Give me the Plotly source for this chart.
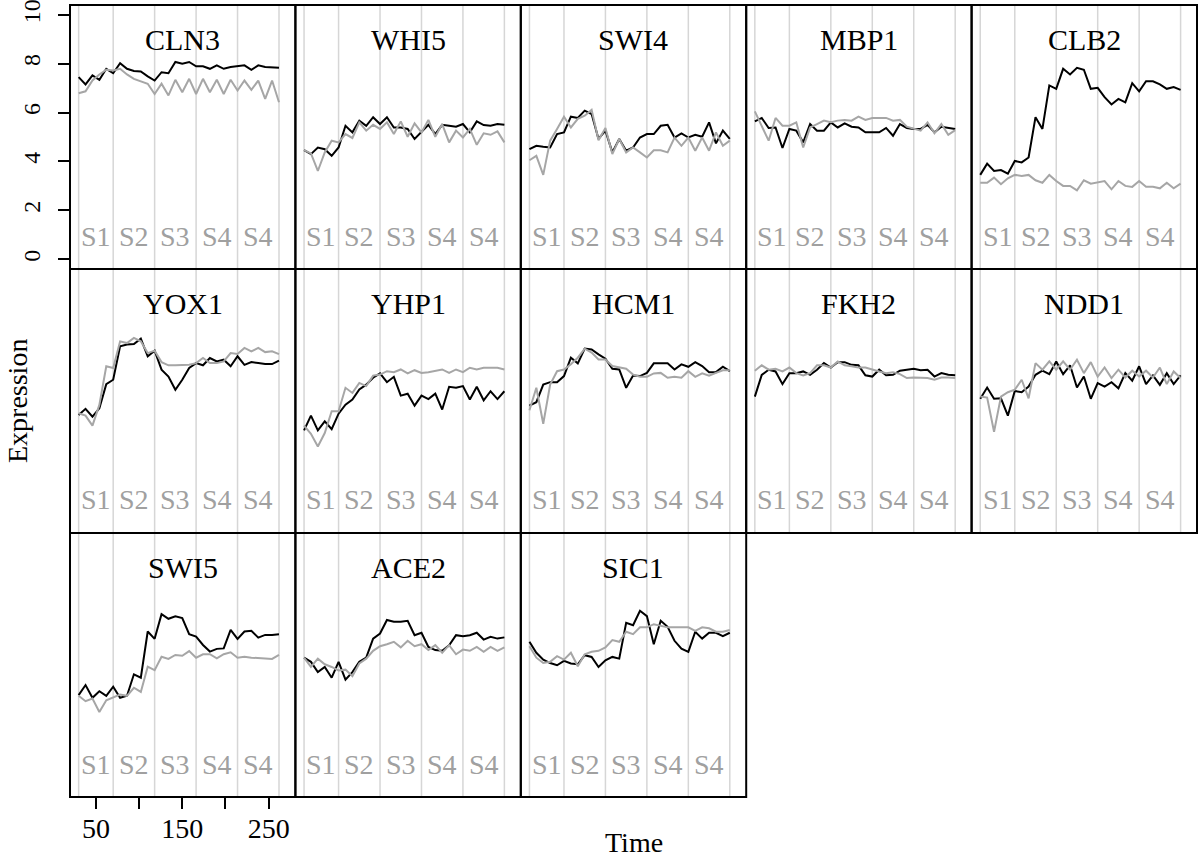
import plotly.graph_objects as go

# ---------------- data ----------------
time = [30, 38, 46, 54, 62, 70, 78, 86, 94, 102, 110, 118, 126, 134, 142,
        150, 158, 166, 174, 182, 190, 198, 206, 214, 222, 230, 238, 246, 254, 262]

stage_bounds = [30, 70, 118, 166, 214, 262]
stage_labels = ["S1", "S2", "S3", "S4", "S4"]

genes = ["CLN3", "WHI5", "SWI4", "MBP1", "CLB2",
         "YOX1", "YHP1", "HCM1", "FKH2", "NDD1",
         "SWI5", "ACE2", "SIC1"]

cln3_black = [7.45, 7.15, 7.52, 7.34, 7.79, 7.61, 8.02, 7.79, 7.70, 7.68, 7.48, 7.31, 7.65, 7.61, 8.07,
              8.00, 8.07, 7.89, 7.89, 7.79, 7.93, 7.79, 7.86, 7.89, 7.93, 7.75, 7.93, 7.86, 7.83, 7.83]
cln3_gray = [6.79, 6.87, 7.31, 7.56, 7.75, 7.72, 7.79, 7.56, 7.38, 7.28, 7.18, 6.76, 7.18, 6.70, 7.34,
             6.83, 7.38, 6.76, 7.38, 6.83, 7.34, 6.76, 7.34, 6.90, 7.31, 6.93, 7.31, 6.56, 7.31, 6.42]

whi5_black = [4.46, 4.30, 4.57, 4.50, 4.23, 4.57, 5.46, 5.19, 5.67, 5.46, 5.81, 5.53, 5.81, 5.39, 5.39,
              5.33, 4.92, 5.19, 5.50, 5.12, 5.50, 5.46, 5.42, 5.53, 5.19, 5.64, 5.49, 5.46, 5.53, 5.50]
whi5_gray = [4.46, 4.33, 3.61, 4.37, 4.85, 4.78, 5.12, 4.96, 5.60, 5.26, 5.50, 5.33, 5.60, 5.12, 5.64,
             5.01, 5.56, 5.19, 5.70, 5.01, 5.53, 4.78, 5.26, 4.98, 5.33, 4.68, 5.15, 5.09, 5.23, 4.78]

swi4_black = [4.50, 4.64, 4.60, 4.57, 5.12, 5.19, 5.83, 5.78, 6.08, 5.94, 4.92, 5.26, 4.37, 4.92, 4.44,
              4.57, 4.98, 5.12, 5.12, 5.46, 5.50, 4.98, 5.15, 4.98, 5.09, 5.01, 5.60, 4.74, 5.26, 4.92]
swi4_gray = [4.05, 4.23, 3.45, 4.85, 5.33, 5.83, 5.39, 5.74, 5.87, 6.11, 4.87, 5.37, 4.30, 4.92, 4.37,
             4.57, 4.37, 4.16, 4.46, 4.46, 4.37, 4.98, 4.64, 4.98, 4.44, 4.98, 4.44, 5.19, 4.64, 4.85]

mbp1_black = [5.64, 5.78, 5.37, 5.39, 4.55, 5.33, 5.26, 4.78, 5.53, 5.26, 5.26, 5.60, 5.39, 5.56, 5.42,
              5.39, 5.19, 5.19, 5.19, 5.37, 5.05, 5.53, 5.37, 5.33, 5.33, 5.50, 5.19, 5.42, 5.39, 5.33]
mbp1_gray = [6.05, 5.46, 4.85, 5.78, 5.46, 5.46, 5.60, 4.57, 5.39, 5.53, 5.67, 5.60, 5.67, 5.70, 5.67,
             5.83, 5.70, 5.78, 5.78, 5.78, 5.67, 5.70, 5.42, 5.33, 5.26, 5.60, 5.15, 5.53, 5.09, 5.28]

clb2_black = [3.45, 3.91, 3.61, 3.65, 3.50, 4.02, 3.96, 4.16, 5.81, 5.33, 7.11, 6.97, 7.79, 7.56, 7.83,
              7.75, 6.97, 7.01, 6.63, 6.33, 6.56, 6.42, 7.20, 6.87, 7.28, 7.28, 7.15, 6.97, 7.04, 6.93]
clb2_gray = [3.13, 3.13, 3.34, 3.07, 3.31, 3.45, 3.41, 3.45, 3.23, 3.13, 3.45, 3.20, 3.00, 3.00, 2.82,
             3.23, 3.09, 3.13, 3.20, 2.86, 3.20, 3.00, 2.96, 3.20, 2.96, 2.96, 2.90, 3.13, 2.90, 3.09]

yox1_black = [4.43, 4.68, 4.36, 4.70, 5.69, 5.87, 7.24, 7.31, 7.33, 7.55, 6.83, 7.06, 6.28, 6.00, 5.46,
              5.87, 6.35, 6.55, 6.46, 6.76, 6.62, 6.69, 6.42, 6.83, 6.48, 6.59, 6.55, 6.51, 6.51, 6.65]
yox1_gray = [4.50, 4.40, 3.99, 4.84, 6.42, 6.35, 7.44, 7.37, 7.58, 7.44, 6.96, 7.06, 6.59, 6.46, 6.46,
             6.48, 6.48, 6.55, 6.76, 6.55, 6.55, 6.62, 6.96, 6.92, 7.17, 7.03, 7.17, 7.00, 7.03, 6.92]

yhp1_black = [3.80, 4.40, 3.80, 4.17, 3.85, 4.48, 4.85, 5.06, 5.47, 5.67, 5.95, 6.13, 5.77, 5.99, 5.22,
              5.30, 4.81, 5.22, 5.08, 5.30, 4.65, 5.58, 5.54, 5.61, 5.06, 5.58, 5.03, 5.40, 5.08, 5.40]
yhp1_gray = [3.99, 3.66, 3.14, 3.69, 4.58, 4.58, 5.54, 5.33, 5.74, 5.61, 6.04, 6.08, 6.22, 6.18, 6.29,
             6.13, 6.26, 6.15, 6.18, 6.22, 6.29, 6.15, 6.29, 6.18, 6.36, 6.29, 6.36, 6.36, 6.36, 6.29]

hcm1_black = [4.81, 4.95, 5.67, 5.77, 5.77, 6.02, 6.77, 6.54, 7.14, 7.11, 6.91, 6.73, 6.32, 6.29, 5.54,
              6.04, 6.02, 6.15, 6.54, 6.54, 6.54, 6.29, 6.50, 6.40, 6.59, 6.43, 6.18, 6.18, 6.40, 6.22]
hcm1_gray = [4.62, 5.54, 4.07, 5.67, 6.22, 6.29, 6.50, 6.77, 7.14, 6.98, 6.70, 6.70, 6.43, 6.36, 6.32,
             6.08, 5.99, 5.99, 6.13, 6.15, 5.95, 5.99, 5.95, 6.22, 5.99, 6.13, 6.04, 6.15, 6.26, 6.26]

fkh2_black = [5.18, 6.07, 6.28, 6.21, 5.69, 6.14, 6.14, 6.21, 6.07, 6.28, 6.55, 6.37, 6.59, 6.59, 6.48,
              6.46, 6.05, 6.00, 6.28, 6.05, 6.07, 6.24, 6.28, 6.32, 6.26, 6.28, 6.00, 6.14, 6.07, 6.05]
fkh2_gray = [6.24, 6.46, 6.28, 6.32, 6.21, 6.37, 6.14, 6.05, 6.14, 6.46, 6.46, 6.37, 6.62, 6.46, 6.42,
             6.37, 6.37, 6.28, 6.21, 6.14, 6.18, 6.10, 5.94, 5.96, 5.94, 5.94, 5.87, 5.96, 5.96, 5.94]

ndd1_black = [5.09, 5.55, 5.09, 5.11, 4.40, 5.41, 5.36, 5.59, 6.07, 6.24, 6.10, 6.62, 6.10, 6.46, 5.55,
              6.00, 5.09, 5.73, 5.59, 5.77, 5.52, 6.14, 5.83, 6.42, 5.69, 6.05, 5.66, 6.14, 5.69, 6.05]
ndd1_gray = [5.18, 5.14, 3.74, 5.18, 5.36, 5.46, 5.87, 5.11, 6.55, 6.28, 6.62, 6.28, 6.62, 6.28, 6.69,
             6.14, 6.59, 6.00, 6.37, 5.94, 6.28, 5.96, 6.24, 6.00, 6.24, 5.96, 6.37, 5.69, 6.21, 5.94]

swi5_black = [3.77, 4.18, 3.66, 3.93, 3.74, 4.11, 3.66, 3.74, 4.62, 4.48, 6.37, 6.07, 7.08, 6.89, 6.99,
              6.92, 6.26, 6.16, 5.82, 5.55, 5.66, 5.68, 6.44, 6.07, 6.37, 6.40, 6.12, 6.23, 6.23, 6.26]
swi5_gray = [3.74, 3.52, 3.63, 3.08, 3.56, 3.66, 3.79, 3.74, 4.07, 3.90, 4.93, 4.79, 5.34, 5.25, 5.41,
             5.38, 5.57, 5.30, 5.44, 5.44, 5.27, 5.44, 5.52, 5.30, 5.34, 5.30, 5.27, 5.27, 5.25, 5.41]

ace2_black = [5.30, 5.13, 4.71, 4.92, 4.48, 5.13, 4.40, 4.71, 5.13, 5.30, 6.08, 6.29, 6.84, 6.77, 6.77,
              6.81, 6.22, 6.32, 5.74, 5.61, 5.58, 5.81, 6.22, 6.18, 6.22, 6.32, 6.04, 6.15, 6.08, 6.13]
ace2_gray = [5.30, 4.92, 5.26, 5.03, 4.92, 4.78, 4.81, 4.54, 5.06, 5.26, 5.58, 5.77, 5.85, 5.95, 5.72,
             5.99, 5.77, 5.85, 5.61, 5.81, 5.50, 5.81, 5.44, 5.63, 5.58, 5.74, 5.54, 5.74, 5.58, 5.72]

sic1_black = [5.95, 5.50, 5.22, 5.08, 4.99, 5.17, 5.06, 5.03, 5.40, 5.33, 4.92, 5.19, 5.33, 5.26, 6.73,
              6.63, 7.22, 7.00, 5.85, 6.81, 6.56, 5.99, 5.67, 5.54, 6.36, 6.08, 6.32, 6.32, 6.18, 6.32]
sic1_gray = [5.77, 5.30, 5.08, 5.13, 5.36, 5.22, 5.50, 4.95, 5.44, 5.54, 5.58, 5.72, 6.02, 5.95, 6.36,
             6.26, 6.54, 6.54, 6.67, 6.59, 6.54, 6.54, 6.54, 6.54, 6.40, 6.54, 6.50, 6.36, 6.36, 6.43]

black_series = [cln3_black, whi5_black, swi4_black, mbp1_black, clb2_black,
                yox1_black, yhp1_black, hcm1_black, fkh2_black, ndd1_black,
                swi5_black, ace2_black, sic1_black]
gray_series = [cln3_gray, whi5_gray, swi4_gray, mbp1_gray, clb2_gray,
               yox1_gray, yhp1_gray, hcm1_gray, fkh2_gray, ndd1_gray,
               swi5_gray, ace2_gray, sic1_gray]

y_ticks = [0, 2, 4, 6, 8, 10]
x_ticks = [50, 100, 150, 200, 250]
x_ticktext = ["50", "", "150", "", "250"]

# ---------------- figure ----------------
FONT = "Liberation Serif, Times New Roman, serif"
fig = go.Figure()
shapes = []
annotations = []
ncol, nrow = 5, 3
XR = [20, 281]
YR = [-0.4, 10.4]

for p, name in enumerate(genes):
    row, col = divmod(p, ncol)
    sfx = "" if p == 0 else str(p + 1)
    xid, yid = "x" + sfx, "y" + sfx
    fig.add_trace(go.Scatter(x=time, y=black_series[p], mode="lines",
                             line=dict(color="black", width=2),
                             xaxis=xid, yaxis=yid, showlegend=False, hoverinfo="skip"))
    fig.add_trace(go.Scatter(x=time, y=gray_series[p], mode="lines",
                             line=dict(color="#a6a6a6", width=2),
                             xaxis=xid, yaxis=yid, showlegend=False, hoverinfo="skip"))

    xax = dict(domain=[col / ncol, (col + 1) / ncol], range=XR, anchor=yid,
               automargin=False, showline=False,
               showgrid=False, zeroline=False, showticklabels=False, ticks="")
    yax = dict(domain=[1 - (row + 1) / nrow, 1 - row / nrow], range=YR, anchor=xid,
               automargin=False, showline=False,
               showgrid=False, zeroline=False, showticklabels=False, ticks="")
    if p == 0:
        yax.update(showticklabels=True, ticks="outside", ticklen=11, tickwidth=1.5,
                   tickcolor="black", tickvals=y_ticks, tickangle=-90,
                   tickfont=dict(family=FONT, size=24, color="black"),
                   ticklabelstandoff=8, ticklabeloverflow="allow")
    if row == nrow - 1 and col == 0:
        xax.update(showticklabels=True, ticks="outside", ticklen=11, tickwidth=1.5,
                   tickcolor="black", tickvals=x_ticks, ticktext=x_ticktext,
                   tickfont=dict(family=FONT, size=28, color="black"),
                   ticklabelstandoff=-5, ticklabeloverflow="allow")
    fig.layout["xaxis" + sfx] = xax
    fig.layout["yaxis" + sfx] = yax

    for b in stage_bounds:
        shapes.append(dict(type="line", xref=xid, yref=yid + " domain",
                           x0=b, x1=b, y0=0, y1=1, layer="below",
                           line=dict(color="#d6d6d6", width=1.5)))
    shapes.append(dict(type="rect", xref=xid + " domain", yref=yid + " domain",
                       x0=0, x1=1, y0=0, y1=1, layer="above",
                       line=dict(color="black", width=2)))
    for i, lab in enumerate(stage_labels):
        mid = (stage_bounds[i] + stage_bounds[i + 1]) / 2
        annotations.append(dict(x=mid, y=0.95, xref=xid, yref=yid, text=lab,
                                showarrow=False, xanchor="center", yanchor="middle",
                                font=dict(family=FONT, size=28, color="#a0a0a0")))
    annotations.append(dict(x=0.5, y=9.0, xref=xid + " domain", yref=yid, text=name,
                            showarrow=False, xanchor="center", yanchor="middle",
                            font=dict(family=FONT, size=30, color="black")))

annotations.append(dict(x=-0.047, y=0.5, xref="paper", yref="paper", text="Expression",
                        showarrow=False, textangle=-90, xanchor="center", yanchor="middle",
                        font=dict(family=FONT, size=28, color="black")))
annotations.append(dict(x=0.5, y=-0.058, xref="paper", yref="paper", text="Time",
                        showarrow=False, xanchor="center", yanchor="middle",
                        font=dict(family=FONT, size=28, color="black")))

fig.update_layout(width=1200, height=860,
                  margin=dict(l=70, r=3, t=5, b=63, autoexpand=False),
                  paper_bgcolor="white", plot_bgcolor="white",
                  shapes=shapes, annotations=annotations, showlegend=False)

fig.write_html("out.html", config={"displayModeBar": False},
               post_script="document.body.style.margin='0px';document.body.style.padding='0px';document.body.style.overflow='hidden';")
